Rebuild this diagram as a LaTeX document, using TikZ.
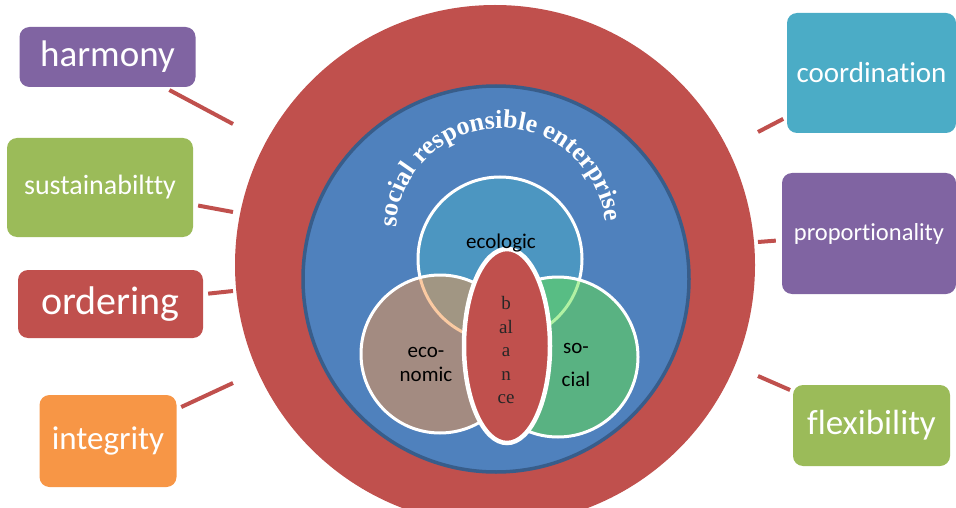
\documentclass[tikz,border=0pt]{standalone}
\usepackage{fontspec}
\setmainfont{Carlito}[Ligatures=NoCommon]
\newfontfamily\serifface{Liberation Serif}
\newcommand\arcfont{\serifface\bfseries\fontsize{26}{26}\selectfont}
\usetikzlibrary{decorations.text}

\definecolor{ringred}{HTML}{C0504D}
\definecolor{coreblue}{HTML}{4F81BD}
\definecolor{coreedge}{HTML}{385D8A}
\definecolor{plum}{HTML}{8064A2}
\definecolor{leaf}{HTML}{9BBB59}
\definecolor{amber}{HTML}{F79646}
\definecolor{aqua}{HTML}{4BACC6}
\definecolor{lime}{HTML}{64E448}

\begin{document}
\begin{tikzpicture}[x=1pt,y=-1pt,
  keybox/.style={rounded corners=10pt, inner sep=0pt, text=white, align=center},
  link/.style={draw=ringred, line width=4pt},
  lobe/.style={draw=white, line width=3pt, fill opacity=0.5},
  lobetext/.style={font=\fontsize{21}{24}\selectfont, text=black, align=center, inner sep=0pt},
]
\useasboundingbox (0,0) rectangle (956,508);
\clip (0,0) rectangle (956,508);

% outer ring and inner disc
\fill[ringred] (495,265) circle[radius=260pt];
\draw[fill=coreblue, draw=coreedge, line width=3.5pt] (496,279) circle[radius=193pt];

% the three overlapping lobes
\draw[lobe, fill=aqua] (500,259) circle[radius=82pt];
\draw[lobe, fill=amber] (440,354) circle[radius=79pt];
\draw[lobe, fill=lime] (558,357) circle[radius=80pt];

% central ellipse
\draw[fill=ringred, draw=white, line width=4.5pt] (507,346) ellipse[x radius=43pt, y radius=97pt];

% lobe labels
\node[lobetext] (ecolabel) at (501,243) {ecologic};
\node[lobetext] (econlabel) at (426,364) {eco-\\nomic};
\node[lobetext] (soclabel) at (576,365) {so-\\[9pt]cial};
\node[align=center, inner sep=0pt, text=black!85,
      font=\serifface\fontsize{19}{23.5}\selectfont] (balance) at (506,350) {b\\al\\a\\n\\ce};

% curved title
\path[decorate, font=\arcfont,
      decoration={text along path,
      text={|\arcfont|social responsible enterprise},
      text color=white, text align=center}]
  (396.1,229.4) arc[start angle=178, end angle=5, radius=105pt];

% value boxes
\node[keybox, fill=plum, minimum width=176pt, minimum height=60pt,
      font=\fontsize{37}{40}\selectfont] (harmony) at (107.5,57) {harmony};
\node[keybox, fill=leaf, minimum width=186pt, minimum height=99pt,
      font=\fontsize{28}{30}\selectfont] (sustain) at (100,187.5) {sustainabiltty};
\node[keybox, fill=ringred, minimum width=185pt, minimum height=68pt,
      font=\fontsize{40}{42}\selectfont] (ordering) at (110.5,304) {ordering};
\node[keybox, fill=amber, minimum width=137pt, minimum height=92pt,
      font=\fontsize{33}{35}\selectfont] (integrity) at (108,441) {integrity};
\node[keybox, fill=aqua, minimum width=169pt, minimum height=120pt,
      font=\fontsize{29}{31}\selectfont] (coordination) at (871.5,73) {coordination};
\node[keybox, fill=plum, minimum width=174pt, minimum height=121pt,
      font=\fontsize{24.5}{26}\selectfont] (proportion) at (869,233.5) {proportionality};
\node[keybox, fill=leaf, minimum width=157pt, minimum height=81pt,
      font=\fontsize{35}{37}\selectfont] (flexibility) at (871.5,425.5) {flexibility};

% loose ends of the connectors
\coordinate (harmonyEnd) at (233,124);
\coordinate (sustainEnd) at (233,212);
\coordinate (orderingEnd) at (233,291);
\coordinate (integrityEnd) at (233,383);
\coordinate (coordinationEnd) at (758,132);
\coordinate (proportionEnd) at (758,242);
\coordinate (flexibilityEnd) at (758,376);

\draw[link, shorten <=6pt] (harmony) -- (harmonyEnd);
\draw[link, shorten <=5pt] (sustain) -- (sustainEnd);
\draw[link, shorten <=5pt] (ordering) -- (orderingEnd);
\draw[link, shorten <=5pt] (integrity) -- (integrityEnd);
\draw[link, shorten <=4pt] (coordination) -- (coordinationEnd);
\draw[link, shorten <=6pt] (proportion) -- (proportionEnd);
\draw[link, shorten <=3pt] (flexibility) -- (flexibilityEnd);
\end{tikzpicture}
\end{document}
